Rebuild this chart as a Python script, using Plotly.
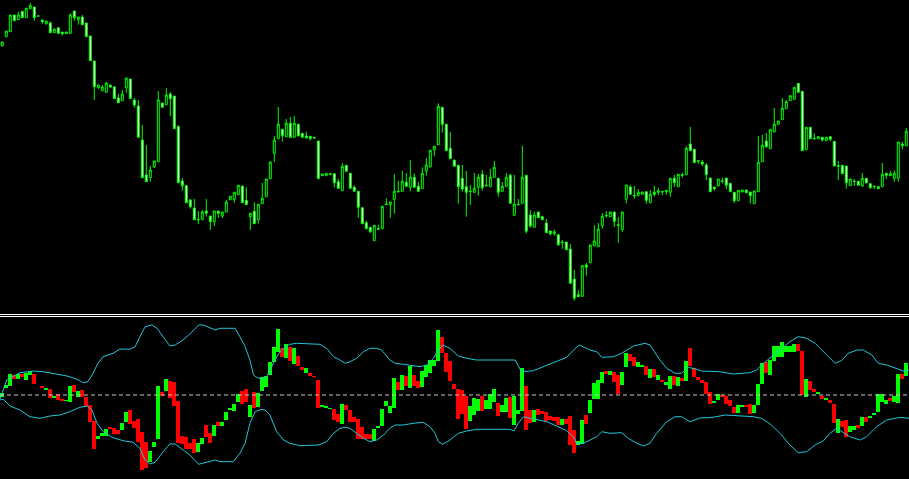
import plotly.graph_objects as go

# ---------------- price candles (arbitrary price units) ----------------
opens = [274.3,283.3,288.3,305,300.3,308.7,302.3,311.3,313,304,300,296.3,297,287.3,292.3,288,286.3,286.7,309,300.3,
 303,297,284,259,232.3,229.3,227.7,235,233,222,219.3,232.3,241,220,214,180,145,142.3,153.3,158.3,
 217,215.3,226,224,193.3,139,134.3,120,112,100,100.3,109,104,98.3,109,104,108,120.3,120.3,125.3,
 134,119.7,103.3,108.7,100.3,116.3,123.3,141.3,166.7,181.3,190.7,183.3,196.7,182.7,195.7,186.7,184,183.7,182.7,179,
 144.3,144.3,146.3,146.3,138.3,129.3,154.7,146.7,132.7,128.7,112.3,97.3,92.7,79.3,91.3,91.3,116,115.3,120.7,128.7,
 128.7,137.7,132.7,142.7,133.7,131.3,149,153,170.3,175.3,212.7,195.7,171.7,160,154.7,141.7,133.3,129,127.7,132.7,
 145.7,134.7,133.3,142.7,141.7,128.7,133.7,144.7,104.7,115.7,116.7,144.7,105,92.7,108,103.3,97,89,86.3,85.3,
 78,78,71,41,25.3,23.7,55,57.3,74,73.3,94.3,104.7,103.3,108,95.3,90.3,120.7,133,124.7,124.7,
 125.7,128.3,117.3,127.7,127.7,128.7,128.3,127.7,141.7,133.3,145.3,145.3,176,170.7,159.3,158,155,142,133,134,
 139,142,136.7,127.7,119.3,128,130,128,116.3,128.3,158.3,179,171.3,188,195.7,200.3,211.3,219.3,220.7,236.7,
 228.7,170.3,192.7,181.7,181.3,182.7,179.3,183.3,178.7,154.3,154.7,154,134.3,139,138.7,134,141.7,136.3,134,133.3,
 133.3,146.7,144.3,141.7,141.7,176,174.3]
highs = [278,289,305,305,308,308.7,311.7,317,313,304.5,300,299,298.7,291,292.3,288,288,306.7,309,303,
 305,297,284,259,235,235,238,235,234,226,230,242,241,222,220,195,175,154,159,229,
 217,232,228,224,195,142,134.3,121,121,109,110,121,104,109,109,108,120,123.7,127.7,134.7,
 134,132.7,106.7,117.7,115.7,137,141,158,184,213,190.7,201,203,204,195.7,186.7,188,183.7,182.7,179,
 146,146.7,146.3,146.3,141.3,156.7,154.7,146.7,134.7,128.7,112.3,99.3,92.7,94.7,95.3,113.7,121.7,118,146,139,
 149,146.7,160,146.7,137.7,152.7,162,169.7,173.7,216.7,212.7,195.7,188,160,154.7,155,149,135,147,146,
 150,145,151,159,141.7,138,147,146,145,121,174.3,144.7,110,108.3,108,104.3,101,89,90.7,85.3,
 80,78,76,50,30,54.3,57,75,95,97,107,109,108,108,103,108,135,135,134,131,
 128,128.3,130,134.3,132.3,128.7,129.7,141.7,145,145.7,147,173.7,193,170.7,159.3,160,157,142,133,141,
 142.3,142,136.7,127.7,129.7,130,130,128,129,184,185,187,190.7,212,199,222,220,224.3,232.7,236.7,
 228.7,192.7,192.7,186.7,183.3,182.7,182.7,184,178.7,159,154.7,154,141,141,138.7,147,141.7,136.3,134,133.3,
 157,146.7,149,149.7,178,178,192]
lows = [273.3,283.3,288.3,299.3,300.3,302.3,302.3,311.3,299.3,303.5,296.3,295.3,287.3,287.3,286.7,284.3,286.3,286,299.3,295.3,
 295.3,283.3,259.3,220,231.3,229.3,227,231.7,221.3,217.3,219.3,227.3,221.3,212.3,182.7,142.3,138.3,138.3,152,158.3,
 212.7,215.3,204,191.3,137.3,129.3,117.3,111.3,100.3,96,100.3,103.3,90,94,102,102,108,120.3,117.3,125.3,
 117.3,115.3,90,96.3,96.3,116.3,123.3,141.3,158,181.3,178.3,183.3,182.7,182.7,184,182.7,182,179.3,181,141.3,
 144.3,144.3,144.7,132.7,131.7,129.3,148.7,131.7,128.7,102.3,96.3,91.3,87,79.3,90.8,91.3,115.5,102.3,106.3,128.2,
 128.7,133.7,128.7,132.7,128.7,131.3,144.3,153,163.7,175.3,187.3,169.3,161.3,153.7,116.3,128.3,103.3,115,127.7,124.3,
 129.3,134.2,133.3,142.7,123.3,128.7,133.7,116.7,104.7,115.2,116.7,86.7,92.3,92.7,102.3,100.3,87.3,84.3,84.3,74,
 71.3,70.3,36.7,19.3,23.3,23.3,44.3,57.3,74,73.3,91.3,102.7,103.3,93,77.3,88.3,116.7,125.7,121.3,123.3,
 125.7,116.3,117.3,123.3,124.7,124.7,125.3,123.3,133.3,133.3,142.3,145.3,169.3,157.3,156.3,154,140,128.3,129.3,134,
 136.7,131,128.3,117,119.3,128,127.3,116.7,116.3,128.3,158.3,173,171.3,188,195.7,200.3,211.3,219.3,220.7,227.7,
 169.3,170.3,181.3,181.2,181.3,178.3,179.3,178.7,154,140,146.3,131.3,134.3,134.3,134.7,133,137,131,131,131.3,
 133.3,141,144.3,138.3,138.3,170.7,174.3]
closes = [278,289,305,299.3,305,302.3,311.7,314.3,302.3,304,298.3,299,287.3,291,286.7,286.3,288,305,302.3,303,
 295.3,283.3,259.3,233.3,235,233,237,233,221.3,217.3,226,242,221.3,215,182.7,142.3,138.3,150,159,220,
 212.7,225,221.3,191.3,137.3,134.3,117.3,113.3,100.3,100.5,108,106.7,98.3,109,106.7,108,118,123.7,127.7,134.7,
 117.3,115.3,106.7,96.3,115.7,121.7,141,158,180,195.7,184.3,196.7,182.7,196.7,184,182.7,182,181.3,182.2,141.3,
 146,146.7,145.8,137.3,131.7,153.7,148.7,131.7,128.7,112.7,96.3,91.3,88.3,94.7,90.8,113.7,115.5,118,128.7,128.2,
 138.7,133.7,142.7,132.7,128.7,146.7,155,169.7,173.7,213.7,195.7,169.3,161.3,153.7,133.3,131,127.7,128.5,131.7,142.7,
 132.3,134.2,142.7,152.7,127.7,133.7,142.7,116.7,115.7,115.2,142.7,88.7,94,105,102.3,100.3,87.3,86.3,88.3,75.3,
 77.5,70.3,36.7,21.7,23.3,54.3,52.7,75,79,91,103.7,104.2,108,98.7,94.8,108,135,125.7,124.2,127.7,
 128,119.7,125.7,125.7,129.3,128.2,129.7,141.7,137.3,145.7,144.8,171.7,169.3,157.3,158.8,156,145.3,128.3,131.3,141,
 138.5,134.7,128.3,119.3,129.7,130,127.3,124.3,129,157.7,174.7,173,190.7,195.7,199,211.7,218.3,224.3,232.7,227.7,
 169.3,192.7,181.3,181.2,183.3,180,182.7,180.7,154,153.8,146.3,137.3,141,138.5,134.7,141.7,137,132.3,133.5,131.3,
 145.7,144.7,146.3,146.7,178,174.3,188.7]

# ---------------- oscillator (floating bars) ----------------
osc_open = [-2,7,9,20,16,21,15,20,21,9,9,5,6,-3,1,-4,-6,-7,10,-2,
 5,-2,-10,-26,-44,-41,-41,-32,-33,-35,-35,-27,-15,-26,-24,-37,-47,-67,-52,-44,
 3,4,14,13,-6,-41,-42,-48,-44,-57,-49,-30,-38,-41,-27,-31,-25,-15,-16,-7,
 4,6,-22,3,-12,4,8,20,33,43,47,37,48,31,39,28,22,22,19,15,
 -12,-13,-14,-14,-19,-29,-10,-15,-22,-24,-32,-39,-39,-46,-33,-31,-11,-18,-13,13,
 5,19,7,20,14,8,18,22,29,34,58,42,34,11,6,5,-1,-26,-20,-16,
 -1,-14,-14,-7,-8,-17,-17,-2,-30,-19,-16,9,-15,-27,-14,-16,-17,-21,-22,-22,
 -30,-24,-21,-35,-50,-49,-20,-18,-4,-4,12,24,20,23,20,10,28,41,38,28,
 28,29,17,26,15,15,10,6,19,9,17,14,47,27,18,15,13,3,-8,-5,
 0,-1,-5,-12,-18,-12,-10,-9,-18,-10,11,33,20,34,38,38,43,43,43,51,
 44,-2,14,6,1,-1,-5,-5,-9,-38,-26,-25,-37,-35,-30,-31,-22,-23,-20,-17,
 -7,-9,-3,-7,-8,21,19]
osc_close = [1.7,10,21,16,21,18,22,24,11.3,9,7,7,-3,-1,-5,-6,-5,9,3,4,
 -2,-11,-27,-54,-41,-38,-34,-34,-39,-39,-28,-17,-29,-33,-47,-75,-73,-56,-47,9,
 -1,16,-3,-11,-48,-49,-54,-54,-58,-48,-43,-42,-48,-30,-31,-27,-17,-13,-9,1,
 -9,-7,-10,-13,2,18,19,33,48,66,38,51,34,47,29,25,27,19,18,-13,
 -10,-11,-13,-25,-27,-9,-15,-27,-27,-44,-44,-44,-44,-34,-31,-14,-6,-11,17,5,
 20,9,29,9,7,24,30,35,35,65,42,23,14,6,-24,-19,-34,-11,-3,-4,
 -16,-5,1,6,-21,-10,-3,-23,-1,-15,27,-35,-28,-15,-20,-19,-26,-25,-26,-30,
 -24,-29,-50,-58,-46,-25,-29,-5,12,15,23,21,24,13,1,23,42,34,29,33,
 30,20,26,18,20,13,13,19,10,18,14,34,29,18,15,12,1,-9,-6,1,
 -2,-9,-11,-18,-10,-10,-12,-19,-10,11,32,22,35,49,49,53,49,49,51,44,
 0,16,5,3,3,-4,-3,-8,-28,-24,-32,-42,-31,-31,-33,-22,-27,-21,-18,1,
 1,-5,-6,-1,21,16,32]

# ---------------- bands around the oscillator ----------------
upper_x = [-0.6,1.1,4.4,7.7,10.2,13.7,16.2,18.7,20.2,21.4,22.7,23.9,25.2,27.7,29.4,31.9,33.2,34.4,35.7,37.4,
 38.7,40.2,41.9,43.2,44.9,46.9,49.1,50.3,53.2,54.4,58.2,59.4,60.7,61.9,62.8,63.6,64.8,66.1,67.4,68.6,
 69.8,71.1,71.9,73.6,79.4,81.1,82.8,84.4,85.7,86.9,88.6,90.3,91.9,93.6,94.8,96.9,98.2,100.3,104.4,106.1,
 107.8,109,110.1,111.9,114,116.1,118.6,128.2,129,129.8,132.8,135.3,137.8,141.1,142.8,144.2,146.1,146.9,148.6,149.9,
 152.8,154.8,157.8,160.7,161.9,163.2,164.4,166.1,168.2,169.8,171.5,173.6,174.8,179.4,182.7,186.9,188.6,189.8,192.3,194.8,
 196.9,199,201.1,203.2,205.3,206.9,208.2,209.8,211.5,213.6,215.2,217.4,219,221.1,223.6,225.3,226.7]
upper_v = [-4,15,22.3,24,23.3,21,19,15.7,12.3,13.3,21.7,31.7,38.3,41.7,46,45.7,48.3,58.3,68.3,70,
 66.7,58.3,49,50,54.3,61,70,70,65,66.7,66.7,58.3,48.3,35,20,17.7,16,18.3,28.3,38.3,
 45,48.3,50.7,51.7,50.7,46.7,38.3,35,31.7,33.3,36.7,43.3,46.7,46.7,45,35,31.7,30.7,28.3,30,
 36.7,45,50,46.7,39,36.7,35,35,28.3,23.3,24.3,28.3,32.7,37.7,45,50,46.7,45,43.3,37.7,
 38.3,41.7,49,51.7,50,41.7,35,26.7,21.7,21.7,27.7,25.7,24,23.3,21,22.3,25,30,38.3,46.7,
 53.3,58.3,56.7,51.7,43.3,36.7,31.7,34.3,41.7,45,45,40,31.7,30,26.7,24,25]
lower_x = [-0.6,0.2,1.9,4.4,6.9,9.4,11.9,14.4,16.9,19.4,21.2,22.4,23.7,25.2,27.7,30.2,32.7,34.4,35.7,36.9,
 38.2,40.2,41.9,43.2,45.2,46.9,49.1,51.9,53.2,54.4,57.7,59.4,60.7,61.9,63.2,64.8,65.7,66.9,68.6,70.3,
 71.9,74.4,79,81.1,82.8,84.4,85.7,86.9,88.6,90.3,91.9,93.6,95.3,96.9,98.2,100.3,102.7,105.2,106.9,108.2,
 109,110.1,111.9,114,116.1,118.6,126.9,127.9,129,130.3,132.8,136.1,138.6,141.1,142.8,143.6,145.3,146.9,148.6,149.9,
 151.9,154.8,156.5,158.6,160.3,161.9,163.6,166.1,168.2,169.8,171.9,174.4,177.7,180.7,184.4,187.7,189.8,192.3,194.8,196.9,
 199,201.1,203.2,205.3,206.9,208.6,211.9,214.4,216.1,218.6,221.1,224.4,226.7]
lower_v = [-5,-4,-11,-15,-21.7,-23.3,-21,-20,-16.7,-12.3,-11,-15,-28.3,-36.7,-42.7,-45.7,-47.3,-53.3,-65,-69,
 -67.3,-56.7,-49,-49,-55,-60,-69.3,-66.7,-65,-66.7,-66.7,-58.3,-48.3,-28.3,-16.7,-14.3,-15,-20,-36.7,-45,
 -48.3,-50.7,-50,-46.7,-38.3,-33.3,-32.3,-33.3,-38.3,-43.3,-46.7,-45,-40,-33.3,-30,-30,-28.3,-27.3,-31.7,-38.3,
 -46.7,-49.3,-45,-38.3,-36,-34.3,-34.3,-36,-28.3,-21.7,-24,-26.7,-31,-35.7,-41.7,-49,-48.3,-45,-41.7,-36.7,
 -38.3,-37.7,-43.3,-48.3,-51,-48.3,-38.3,-26.7,-21.7,-21.7,-26.7,-23,-22.3,-20,-21,-21.7,-23.3,-30,-40,-50,
 -57.7,-56.7,-50,-45.7,-38.3,-33.3,-41.7,-45,-41.7,-31.7,-25,-22.3,-23.3]

idx = list(range(len(opens)))

GREEN = "#00FF00"
RED = "#FF0000"
CYAN = "#1EC8DC"

fig = go.Figure()

fig.add_trace(go.Candlestick(
    x=idx, open=opens, high=highs, low=lows, close=closes,
    xaxis="x", yaxis="y",
    increasing=dict(line=dict(color=GREEN, width=1), fillcolor="#000000"),
    decreasing=dict(line=dict(color=GREEN, width=1), fillcolor="#FFFFFF"),
    whiskerwidth=0, hoverinfo="skip", showlegend=False,
))

bar_colors = [GREEN if c >= o else RED for o, c in zip(osc_open, osc_close)]
fig.add_trace(go.Bar(
    x=idx, base=osc_open, y=[c - o for o, c in zip(osc_open, osc_close)],
    marker=dict(color=bar_colors, line=dict(width=0)),
    width=1.0, xaxis="x2", yaxis="y2", hoverinfo="skip", showlegend=False,
))

fig.add_trace(go.Scatter(x=upper_x, y=upper_v, mode="lines",
                         line=dict(color=CYAN, width=1), xaxis="x2", yaxis="y2",
                         hoverinfo="skip", showlegend=False))
fig.add_trace(go.Scatter(x=lower_x, y=lower_v, mode="lines",
                         line=dict(color=CYAN, width=1), xaxis="x2", yaxis="y2",
                         hoverinfo="skip", showlegend=False))

xr = [-0.575, 226.675]
H = 479
top_bottom_px = 313
bot_top_px = 317

ax_common = dict(visible=False, showgrid=False, zeroline=False, fixedrange=True)
fig.update_layout(
    width=909, height=H,
    margin=dict(l=0, r=0, t=0, b=0),
    paper_bgcolor="#000000", plot_bgcolor="#000000",
    bargap=0,
    xaxis=dict(range=xr, anchor="y", rangeslider=dict(visible=False), **ax_common),
    yaxis=dict(range=[7, 320], domain=[(H - top_bottom_px) / H, 1], anchor="x", **ax_common),
    xaxis2=dict(range=xr, anchor="y2", **ax_common),
    yaxis2=dict(range=[-84, 78], domain=[0, (H - bot_top_px) / H], anchor="x2", **ax_common),
    shapes=[
        dict(type="line", xref="paper", yref="paper", x0=0, x1=1,
             y0=1 - 314.5 / H, y1=1 - 314.5 / H, line=dict(color="#FFFFFF", width=1)),
        dict(type="line", xref="paper", yref="paper", x0=0, x1=1,
             y0=1 - 316.5 / H, y1=1 - 316.5 / H, line=dict(color="#FFFFFF", width=1)),
        dict(type="line", xref="x2", yref="y2", x0=xr[0], x1=xr[1], y0=0, y1=0,
             line=dict(color="#C8C8C8", width=1, dash="4px,3px"), layer="above"),
    ],
)

fig.write_html(
    "out.html",
    config={"displayModeBar": False, "staticPlot": True},
    post_script="document.body.style.margin='0';document.body.style.background='#000';document.body.style.overflow='hidden';",
)
